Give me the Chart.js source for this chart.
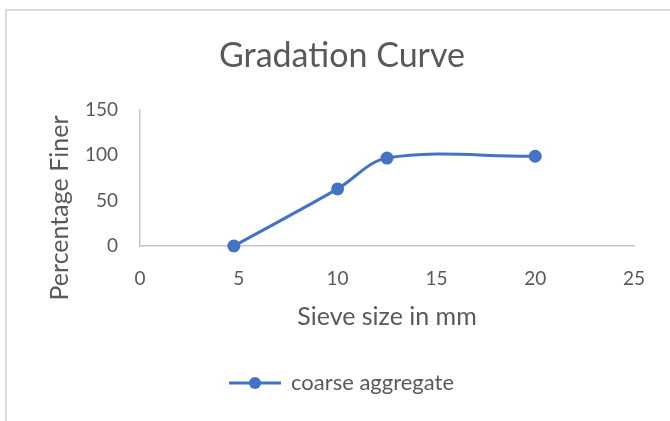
<!DOCTYPE html>
<html>
<head>
<meta charset="utf-8">
<script src="https://cdn.jsdelivr.net/npm/chart.js@4/dist/chart.umd.min.js"></script>
<style>
  html, body { margin: 0; padding: 0; background: #ffffff; }
  #wrap { position: relative; width: 670px; height: 421px; overflow: hidden; }
  canvas { display: block; }
</style>
</head>
<body>
<div id="wrap"><canvas id="chart" width="670" height="421"></canvas></div>
<script>
// Sieve analysis results
const sieveSizes = [4.75, 10, 12.5, 20];       // mm
const percentFiner = [0, 63, 97, 99];          // %
const seriesName = 'coarse aggregate';

// Axis tick values
const xTickValues = [0, 5, 10, 15, 20, 25];
const yTickValues = [0, 50, 100, 150];

const BLUE = '#4472C4';
const TEXT = '#595959';
const AXIS = '#c8c8c8';
const FONT = 'Lato';

// Legend symbol: short line with a marker in the middle
const legendSymbol = document.createElement('canvas');
legendSymbol.width = 52;
legendSymbol.height = 14;
(function () {
  const c = legendSymbol.getContext('2d');
  c.strokeStyle = BLUE;
  c.lineWidth = 3;
  c.beginPath();
  c.moveTo(0, 7);
  c.lineTo(52, 7);
  c.stroke();
  c.fillStyle = BLUE;
  c.beginPath();
  c.arc(26, 7, 6, 0, Math.PI * 2);
  c.fill();
})();

// Outer frame of the chart
const framePlugin = {
  id: 'frame',
  beforeDraw(chart) {
    const ctx = chart.ctx;
    ctx.save();
    ctx.fillStyle = '#ffffff';
    ctx.fillRect(0, 0, chart.width, chart.height);
    ctx.fillStyle = '#dadada';
    ctx.fillRect(5, 9, 2, chart.height - 9);
    ctx.fillRect(5, 9, chart.width - 5, 2);
    ctx.restore();
  }
};

// Rotated y axis title, centred a little below the plot middle
const yTitlePlugin = {
  id: 'yTitle',
  afterDraw(chart) {
    const ctx = chart.ctx;
    const area = chart.chartArea;
    ctx.save();
    ctx.translate(area.left - 80, area.bottom - 38);
    ctx.rotate(-Math.PI / 2);
    ctx.fillStyle = TEXT;
    ctx.font = '25px ' + FONT;
    ctx.textAlign = 'center';
    ctx.textBaseline = 'middle';
    ctx.fillText('Percentage Finer', 0, 0);
    ctx.restore();
  }
};

const points = sieveSizes.map((s, i) => ({ x: s, y: percentFiner[i] }));

new Chart(document.getElementById('chart'), {
  type: 'line',
  data: {
    datasets: [{
      label: seriesName,
      data: points,
      borderColor: BLUE,
      backgroundColor: BLUE,
      borderWidth: 3,
      pointRadius: 6.5,
      pointBackgroundColor: BLUE,
      pointBorderColor: BLUE,
      pointBorderWidth: 0,
      tension: 0.35,
      fill: false,
      clip: false
    }]
  },
  options: {
    responsive: false,
    animation: false,
    devicePixelRatio: 1,
    layout: { padding: { left: 14, right: 0, top: 0, bottom: 17 } },
    scales: {
      x: {
        type: 'linear',
        min: 0,
        max: 25,
        afterBuildTicks(scale) { scale.ticks = xTickValues.map(v => ({ value: v })); },
        afterFit(scale) { scale.height = 86; },
        grid: { display: false, drawTicks: false },
        border: { display: true, color: AXIS, width: 1.5 },
        ticks: { color: TEXT, font: { family: FONT, size: 19 }, padding: 21, maxRotation: 0 },
        title: {
          display: true,
          text: 'Sieve size in mm',
          color: TEXT,
          font: { family: FONT, size: 25 },
          padding: { top: 0, bottom: 0 }
        }
      },
      y: {
        type: 'linear',
        min: 0,
        max: 150,
        afterBuildTicks(scale) { scale.ticks = yTickValues.map(v => ({ value: v })); },
        afterFit(scale) { scale.width = 126; },
        grid: { display: false, drawTicks: false },
        border: { display: true, color: AXIS, width: 1.5 },
        ticks: { color: TEXT, font: { family: FONT, size: 19 }, padding: 22 },
        title: { display: false }
      },
      spacer: {
        type: 'linear',
        position: 'right',
        display: true,
        afterFit(scale) { scale.width = 36; },
        grid: { display: false, drawTicks: false },
        border: { display: false },
        ticks: { display: false },
        title: { display: false }
      }
    },
    plugins: {
      title: {
        display: true,
        text: 'Gradation Curve',
        color: TEXT,
        font: { family: FONT, size: 34, weight: 'normal' },
        padding: { top: 35.6, bottom: 33.6 }
      },
      legend: {
        display: true,
        position: 'bottom',
        labels: {
          color: TEXT,
          font: { family: FONT, size: 22 },
          usePointStyle: true,
          pointStyle: legendSymbol,
          pointStyleWidth: 50,
          padding: 40
        }
      },
      tooltip: { enabled: false }
    }
  },
  plugins: [framePlugin, yTitlePlugin]
});
</script>
</body>
</html>
